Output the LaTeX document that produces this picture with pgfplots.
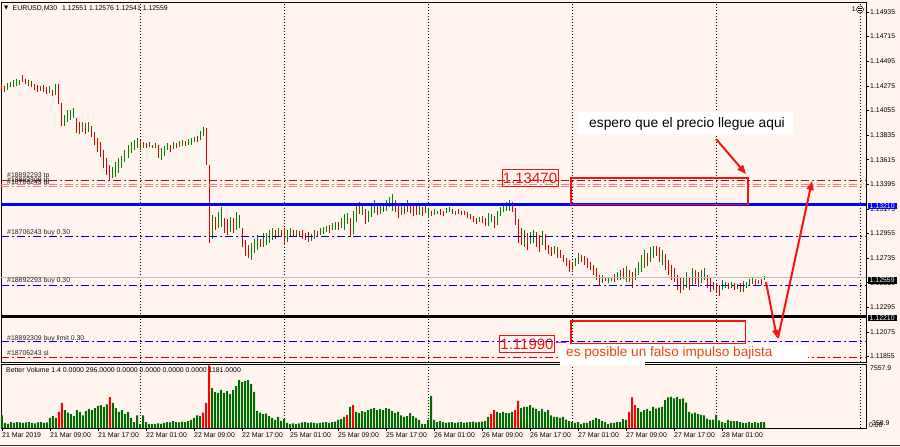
\documentclass[border=0pt]{standalone}
\usepackage{pgfplots}
\usepackage{pgfplotstable}
\pgfplotsset{compat=1.18}
\usepackage{fontspec}
\setmainfont{Liberation Sans}
\newfontfamily\dvs{DejaVu Sans}
\usetikzlibrary{arrows.meta}
\definecolor{bg}{RGB}{255,245,238}
\definecolor{upc}{RGB}{0,128,0}
\definecolor{dnc}{RGB}{225,0,0}
\definecolor{volg}{RGB}{0,105,0}
\definecolor{volr}{RGB}{255,0,0}
\definecolor{lnblue}{RGB}{0,0,205}
\definecolor{lnred}{RGB}{205,0,0}
\definecolor{lnpink}{RGB}{240,128,128}
\definecolor{annred}{RGB}{245,20,20}
\definecolor{annor}{RGB}{238,68,20}
\definecolor{annpur}{RGB}{190,60,190}
\newcommand{\smf}{\fontsize{6.9}{8}\selectfont}

% pc: 1 = up bar (green), 0 = down bar (red); vc: 1 = red volume bar, 0 = green
\pgfplotstableread{
t lo hi pc v vc
2 1.1424 1.1429 0 1500 0
3 1.1422 1.1427 0 600 0
4 1.1424 1.1430 1 500 0
5 1.1426 1.1431 1 700 0
6 1.1426 1.1433 1 600 0
7 1.1427 1.1434 1 700 0
8 1.1428 1.1433 1 650 0
9 1.1431 1.1437 0 600 0
10 1.1429 1.1434 0 650 0
11 1.1427 1.1433 1 700 0
12 1.1426 1.1432 0 600 0
13 1.1424 1.1429 0 550 0
14 1.1422 1.1428 0 650 0
15 1.1423 1.1427 1 700 0
16 1.1422 1.1428 0 600 0
17 1.1420 1.1426 0 650 0
18 1.1421 1.1427 1 1200 0
19 1.1418 1.1424 0 1400 0
20 1.1419 1.1429 1 1200 0
21 1.1411 1.1429 0 1900 1
22 1.1392 1.1412 0 2950 1
23 1.1392 1.1401 1 2100 0
24 1.1395 1.1406 1 1800 0
25 1.1397 1.1406 1 1650 0
26 1.1399 1.1408 1 1400 0
27 1.1385 1.1399 0 2100 0
28 1.1384 1.1395 0 1900 0
29 1.1386 1.1395 1 1500 0
30 1.1384 1.1394 0 2000 0
31 1.1386 1.1395 1 2250 0
32 1.1382 1.1392 0 2100 0
33 1.1375 1.1386 0 2350 0
34 1.1368 1.1381 0 2600 0
35 1.1364 1.1377 0 2700 0
36 1.1354 1.1370 0 2500 0
37 1.1348 1.1363 0 2800 0
38 1.1343 1.1357 0 3650 1
39 1.1345 1.1355 1 2950 0
40 1.1346 1.1359 1 2350 0
41 1.1350 1.1363 1 1900 0
42 1.1354 1.1365 1 2100 0
43 1.1359 1.1370 1 1650 0
44 1.1363 1.1375 1 1900 0
45 1.1367 1.1377 1 1200 0
46 1.1370 1.1379 1 700 0
47 1.1372 1.1381 1 1500 0
48 1.1370 1.1379 0 450 0
49 1.1372 1.1377 1 1500 0
50 1.1372 1.1376 0 700 0
51 1.1373 1.1377 1 500 0
52 1.1372 1.1375 0 450 0
53 1.1372 1.1376 1 500 0
54 1.1363 1.1375 0 550 0
55 1.1361 1.1372 1 500 0
56 1.1365 1.1374 1 600 0
57 1.1370 1.1376 1 700 0
58 1.1368 1.1375 0 650 0
59 1.1371 1.1377 1 800 0
60 1.1372 1.1376 0 700 0
61 1.1373 1.1378 1 650 0
62 1.1374 1.1379 1 750 0
63 1.1374 1.1378 0 700 0
64 1.1375 1.1380 1 800 0
65 1.1375 1.1381 1 950 0
66 1.1377 1.1382 1 1200 0
67 1.1377 1.1383 0 1500 0
68 1.1379 1.1387 1 1400 0
69 1.1383 1.1391 1 1800 1
70 1.1357 1.1390 0 2950 1
71 1.1287 1.1357 0 7400 1
72 1.1291 1.1312 1 4700 0
73 1.1299 1.1310 0 4250 0
74 1.1300 1.1315 1 4150 0
75 1.1301 1.1319 1 4500 0
76 1.1296 1.1309 0 4150 0
77 1.1294 1.1308 0 4350 0
78 1.1297 1.1310 1 4000 0
79 1.1296 1.1309 0 4500 0
80 1.1299 1.1315 1 4950 0
81 1.1300 1.1312 1 5650 0
82 1.1283 1.1300 0 5400 0
83 1.1275 1.1290 0 5550 0
84 1.1274 1.1285 0 5650 0
85 1.1272 1.1287 1 5200 0
86 1.1278 1.1291 1 4250 0
87 1.1281 1.1294 1 2000 0
88 1.1283 1.1291 0 1800 0
89 1.1283 1.1296 1 1650 0
90 1.1285 1.1296 1 1700 0
91 1.1287 1.1299 1 1400 0
92 1.1290 1.1300 1 1200 0
93 1.1291 1.1299 0 950 0
94 1.1293 1.1300 1 1300 0
95 1.1292 1.1299 0 800 0
96 1.1285 1.1300 0 1050 0
97 1.1288 1.1299 1 600 0
98 1.1293 1.1300 1 500 0
99 1.1292 1.1299 0 550 0
100 1.1293 1.1299 1 450 0
101 1.1292 1.1298 0 550 0
102 1.1291 1.1299 0 650 0
103 1.1290 1.1296 0 700 0
104 1.1288 1.1297 0 600 0
105 1.1289 1.1295 1 650 0
106 1.1291 1.1299 1 600 0
107 1.1293 1.1298 0 550 0
108 1.1294 1.1300 1 600 0
109 1.1295 1.1301 1 650 0
110 1.1297 1.1302 1 700 0
111 1.1296 1.1303 0 600 0
112 1.1299 1.1305 1 700 0
113 1.1299 1.1306 1 750 0
114 1.1299 1.1306 0 950 0
115 1.1300 1.1309 1 1050 0
116 1.1299 1.1313 1 1300 0
117 1.1304 1.1314 1 1550 1
118 1.1292 1.1309 0 2500 0
119 1.1295 1.1316 1 2700 1
120 1.1306 1.1323 1 1900 0
121 1.1313 1.1324 0 1750 0
122 1.1312 1.1322 1 2000 0
123 1.1304 1.1317 0 1900 0
124 1.1306 1.1316 1 2100 0
125 1.1310 1.1323 1 2250 0
126 1.1314 1.1325 1 2350 0
127 1.1312 1.1322 0 2100 0
128 1.1313 1.1321 1 2250 0
129 1.1315 1.1323 1 2100 0
130 1.1316 1.1325 1 2350 0
131 1.1319 1.1328 1 2250 0
132 1.1316 1.1331 1 2000 0
133 1.1315 1.1325 0 1750 0
134 1.1309 1.1322 0 1900 0
135 1.1312 1.1321 1 1500 0
136 1.1313 1.1322 0 1300 0
137 1.1315 1.1325 1 1400 0
138 1.1314 1.1323 0 1750 0
139 1.1311 1.1321 0 1400 0
140 1.1312 1.1320 0 1200 0
141 1.1312 1.1321 1 950 0
142 1.1311 1.1319 0 500 0
143 1.1314 1.1321 1 450 0
144 1.1309 1.1318 1 950 0
145 1.1311 1.1316 0 3750 0
146 1.1312 1.1317 1 950 0
147 1.1313 1.1316 1 700 0
148 1.1312 1.1317 0 800 0
149 1.1311 1.1316 0 700 0
150 1.1314 1.1318 1 600 0
151 1.1315 1.1319 1 650 0
152 1.1313 1.1317 0 700 0
153 1.1312 1.1316 1 600 0
154 1.1313 1.1317 0 650 0
155 1.1312 1.1316 0 700 0
156 1.1312 1.1316 0 600 0
157 1.1309 1.1315 0 650 0
158 1.1308 1.1313 0 700 0
159 1.1306 1.1311 0 750 0
160 1.1304 1.1309 0 650 0
161 1.1306 1.1310 1 700 0
162 1.1305 1.1311 0 750 0
163 1.1302 1.1309 0 800 0
164 1.1302 1.1314 1 1300 0
165 1.1306 1.1313 1 1650 1
166 1.1300 1.1311 0 2100 1
167 1.1303 1.1316 1 1900 0
168 1.1311 1.1319 1 1750 0
169 1.1315 1.1321 1 1900 0
170 1.1316 1.1324 1 1750 0
171 1.1316 1.1325 1 1750 0
172 1.1315 1.1324 0 1900 0
173 1.1303 1.1318 0 2100 1
174 1.1287 1.1308 0 3200 1
175 1.1285 1.1300 0 2350 0
176 1.1283 1.1299 1 2500 0
177 1.1281 1.1296 0 2500 0
178 1.1286 1.1297 1 2700 0
179 1.1287 1.1299 1 2400 0
180 1.1283 1.1297 0 2250 0
181 1.1279 1.1294 0 2000 0
182 1.1285 1.1298 1 2250 0
183 1.1281 1.1295 0 1900 0
184 1.1277 1.1285 0 2100 0
185 1.1275 1.1283 0 1500 0
186 1.1277 1.1284 1 1300 0
187 1.1274 1.1283 0 1300 0
188 1.1274 1.1281 0 1200 0
189 1.1270 1.1276 0 1300 0
190 1.1266 1.1274 0 1000 0
191 1.1261 1.1272 0 800 0
192 1.1263 1.1270 0 700 0
193 1.1266 1.1274 1 600 0
194 1.1268 1.1278 1 700 0
195 1.1270 1.1276 0 450 0
196 1.1267 1.1275 0 600 0
197 1.1265 1.1274 0 600 0
198 1.1263 1.1270 0 800 0
199 1.1258 1.1267 0 950 0
200 1.1254 1.1265 0 1200 0
201 1.1249 1.1258 0 1050 0
202 1.1251 1.1258 1 800 0
203 1.1253 1.1257 0 700 0
204 1.1251 1.1257 1 450 0
205 1.1253 1.1257 1 600 0
206 1.1252 1.1259 0 600 0
207 1.1254 1.1261 1 700 0
208 1.1254 1.1263 1 700 0
209 1.1255 1.1265 0 1050 0
210 1.1252 1.1266 1 950 0
211 1.1252 1.1263 0 1900 1
212 1.1247 1.1261 0 3600 1
213 1.1254 1.1265 1 2700 1
214 1.1258 1.1270 1 2350 0
215 1.1261 1.1276 1 1900 0
216 1.1265 1.1281 1 2100 0
217 1.1266 1.1278 0 2250 0
218 1.1270 1.1283 1 2000 0
219 1.1274 1.1284 1 2500 0
220 1.1275 1.1284 0 2300 0
221 1.1270 1.1283 0 2400 0
222 1.1267 1.1281 1 2500 0
223 1.1263 1.1277 0 3300 0
224 1.1258 1.1272 0 3600 0
225 1.1254 1.1267 0 3700 0
226 1.1252 1.1265 0 3500 0
227 1.1245 1.1258 0 3650 0
228 1.1242 1.1256 0 3400 0
229 1.1245 1.1257 1 3500 0
230 1.1247 1.1261 1 3000 0
231 1.1245 1.1256 0 1900 0
232 1.1249 1.1265 1 1700 0
233 1.1250 1.1263 0 1800 0
234 1.1248 1.1261 0 1650 0
235 1.1251 1.1263 1 1550 0
236 1.1254 1.1265 1 1500 0
237 1.1247 1.1258 0 1100 0
238 1.1243 1.1256 0 950 0
239 1.1245 1.1252 0 1000 0
240 1.1242 1.1251 0 1550 0
241 1.1240 1.1249 0 900 0
242 1.1245 1.1254 1 700 0
243 1.1247 1.1252 1 600 0
244 1.1246 1.1251 0 950 0
245 1.1247 1.1252 1 800 0
246 1.1245 1.1251 0 800 0
247 1.1246 1.1250 1 800 0
248 1.1243 1.1251 0 700 0
249 1.1243 1.1253 1 600 0
250 1.1247 1.1252 1 600 0
251 1.1249 1.1255 1 700 0
252 1.1250 1.1256 1 600 0
253 1.1249 1.1255 0 700 0
254 1.1250 1.1254 1 600 0
255 1.1249 1.1255 0 700 0
256 1.12541 1.12576 1 700 0
}\bars

\begin{document}
\begin{tikzpicture}
\fill[bg] (0,0) rectangle (900pt,447pt);
% ---------------- main price panel
\begin{axis}[at={(1pt,85pt)}, anchor=south west, scale only axis,
  width=865pt, height=360pt,
  xmin=1.667, xmax=290, ymin=1.11806, ymax=1.150244,
  axis line style={black, line width=0.8pt},
  xtick=\empty,
  ytick={1.11855,1.12075,1.12295,1.12515,1.12735,1.12955,1.13175,1.13395,1.13615,1.13835,1.14055,1.14275,1.14495,1.14715,1.14935},
  yticklabels={1.11855,1.12075,1.12295,1.12515,1.12735,1.12955,1.13175,1.13395,1.13615,1.13835,1.14055,1.14275,1.14495,1.14715,1.14935},
  ytick pos=right, yticklabel pos=right,
  tick align=outside, major tick length=3pt,
  ytick style={black, line width=0.5pt},
  y tick label style={font=\smf, inner sep=1pt, anchor=west},
  clip=true]
\pgfplotsinvokeforeach{48,96,144,192,240,288}{
  \draw[black, line width=0.7pt, dash pattern=on 1.2pt off 1.8pt] (axis cs:#1,1.11806) -- (axis cs:#1,1.150244);
}
\addplot[draw=none, mark=none, restrict expr to domain={\thisrow{pc}}{0.5:1.5},
  error bars/y dir=plus, error bars/y explicit, error bars/error mark=none,
  error bars/error bar style={draw=upc, line width=1pt, solid}]
  table[x=t, y=lo, y error plus expr=\thisrow{hi}-\thisrow{lo}] {\bars};
\addplot[draw=none, mark=none, restrict expr to domain={\thisrow{pc}}{-0.5:0.5},
  error bars/y dir=plus, error bars/y explicit, error bars/error mark=none,
  error bars/error bar style={draw=dnc, line width=1pt, solid}]
  table[x=t, y=lo, y error plus expr=\thisrow{hi}-\thisrow{lo}] {\bars};
% order / level lines
\draw[lnred, line width=0.9pt, dash pattern=on 8pt off 3pt on 2pt off 3pt] (axis cs:1.667,1.13433) -- (axis cs:290,1.13433);
\draw[lnpink, line width=0.9pt, dash pattern=on 8pt off 3pt on 2pt off 3pt] (axis cs:1.667,1.13397) -- (axis cs:290,1.13397);
\draw[lnpink, line width=0.9pt, dash pattern=on 8pt off 3pt on 2pt off 3pt] (axis cs:1.667,1.13376) -- (axis cs:290,1.13376);
\draw[blue, line width=3pt] (axis cs:1.667,1.13210) -- (axis cs:290,1.13210);
\draw[lnblue, line width=0.8pt, dash pattern=on 8pt off 3pt on 2pt off 3pt] (axis cs:1.667,1.12932) -- (axis cs:290,1.12932);
\draw[gray!55, line width=0.8pt] (axis cs:1.667,1.12559) -- (axis cs:290,1.12559);
\draw[lnblue, line width=0.8pt, dash pattern=on 8pt off 3pt on 2pt off 3pt] (axis cs:1.667,1.12494) -- (axis cs:290,1.12494);
\draw[black, line width=3pt] (axis cs:1.667,1.12210) -- (axis cs:290,1.12210);
\draw[lnblue, line width=0.8pt, dash pattern=on 8pt off 3pt on 2pt off 3pt] (axis cs:1.667,1.11990) -- (axis cs:290,1.11990);
\draw[lnred, line width=0.8pt, dash pattern=on 8pt off 3pt on 2pt off 3pt] (axis cs:1.667,1.11850) -- (axis cs:290,1.11850);
\end{axis}
% ---------------- volume panel
\begin{axis}[at={(1pt,19pt)}, anchor=south west, scale only axis,
  width=865pt, height=64pt,
  xmin=1.667, xmax=290, ymin=0, ymax=7552,
  axis line style={black, line width=0.8pt},
  ytick=\empty,
  xtick={2,18,34,50,66,82,98,114,130,146,162,178,194,210,226,242},
  xticklabels={21 Mar 2019,21 Mar 09:00,21 Mar 17:00,22 Mar 01:00,22 Mar 09:00,22 Mar 17:00,25 Mar 01:00,25 Mar 09:00,25 Mar 17:00,26 Mar 01:00,26 Mar 09:00,26 Mar 17:00,27 Mar 01:00,27 Mar 09:00,27 Mar 17:00,28 Mar 01:00},
  xtick pos=left, tick align=outside, major tick length=3pt,
  xtick style={black, line width=0.5pt},
  x tick label style={font=\smf, anchor=north west, inner sep=1pt, xshift=-1pt},
  ybar, bar width=2pt, clip=true]
\pgfplotsinvokeforeach{48,96,144,192,240,288}{
  \draw[black, line width=0.7pt, dash pattern=on 1.2pt off 1.8pt] (axis cs:#1,0) -- (axis cs:#1,7552);
}
\addplot[fill=volg, draw=none, bar shift=0pt, restrict expr to domain={\thisrow{vc}}{-0.5:0.5}] table[x=t, y=v] {\bars};
\addplot[fill=volr, draw=none, bar shift=0pt, restrict expr to domain={\thisrow{vc}}{0.5:1.5}] table[x=t, y=v] {\bars};
\end{axis}
% ---------------- labels and annotations (pixel-like frame, y down)
\begin{scope}[shift={(0pt,447pt)}, x=1pt, y=-1pt]
  % header
  \node[anchor=west, inner sep=0pt] at (4,8.5) {\dvs\fontsize{5.5}{6}\selectfont ▼};
  \node[anchor=west, inner sep=0pt, font=\smf] at (12.5,8.5) {EURUSD,M30};
  \node[anchor=west, inner sep=0pt, font=\smf] at (62,8.5) {1.12551 1.12576 1.12541 1.12559};
  \node[anchor=east, inner sep=0pt, font=\smf] at (856,9.5) {1};
  \draw[black, line width=0.5pt, fill=bg] (860,9.5) circle (3.5);
  \draw[black, line width=0.4pt] (858,8.5) -- (862,8.5) (858,10.5) -- (862,10.5);
  % order labels
  \node[anchor=base west, inner sep=0pt, font=\smf, text=black!85] at (7,178) {\#18892293 tp};
  \node[anchor=base west, inner sep=0pt, font=\smf, text=black!85] at (7,183) {\#18892309 tp};
  \node[anchor=base west, inner sep=0pt, font=\smf, text=black!85] at (7,184.5) {\#18706243 tp};
  \node[anchor=base west, inner sep=0pt, font=\smf, text=black!85] at (7,234.5) {\#18706243 buy 0.30};
  \node[anchor=base west, inner sep=0pt, font=\smf, text=black!85] at (7,283) {\#18892293 buy 0.30};
  \node[anchor=base west, inner sep=0pt, font=\smf, text=black!85] at (7,340.5) {\#18892309 buy limit 0.30};
  \node[anchor=base west, inner sep=0pt, font=\smf, text=black!85] at (7,355.5) {\#18706243 sl};
  \node[anchor=base west, inner sep=0pt, font=\smf] at (6,372.5) {Better Volume 1.4 0.0000 296.0000 0.0000 0.0000 0.0000 0.0000 1181.0000};
  % price boxes on the right
  \node[fill=blue, text=white, font=\smf, anchor=west, inner xsep=2pt, inner ysep=1pt] at (867.5,206) {1.13210};
  \node[fill=black, text=white, font=\smf, anchor=west, inner xsep=2pt, inner ysep=1pt] at (867.5,280.5) {1.12559};
  \node[fill=black, text=white, font=\smf, anchor=west, inner xsep=2pt, inner ysep=1pt] at (867.5,318) {1.12210};
  % volume scale labels
  \node[anchor=west, inner sep=0pt, font=\smf] at (870,368) {7557.9};
  \node[anchor=west, inner sep=0pt, font=\smf] at (872,423.5) {358.9};
  \node[anchor=west, inner sep=0pt, font=\smf] at (869,425) {0.00};
  % text label backgrounds
  \fill[white] (578,112) rectangle (793,134);
  \node[anchor=base west, inner sep=0pt, font=\fontsize{13.8}{16}\selectfont] at (589,128) {espero que el precio llegue aqui};
  \fill[white] (560,345.5) rectangle (808,362);
  \fill[white] (560,360) rectangle (645,365);
  \node[anchor=base west, inner sep=0pt, text=annor, font=\fontsize{13.6}{16}\selectfont] at (566,357) {es posible un falso impulso bajista};
  % annotation boxes
  \draw[annred, line width=1.8pt] (571,178) rectangle (748,204.5);
  \draw[annred, line width=1.8pt] (571,321) rectangle (745.5,343.5);
  \node[draw=annred, line width=0.6pt, text=annred, font=\fontsize{15}{17}\selectfont, inner xsep=1pt, inner ysep=0pt, minimum height=17.5pt] at (530,178) {1.13470};
  \node[draw=annred, line width=0.6pt, text=annred, font=\fontsize{15}{17}\selectfont, inner xsep=1pt, inner ysep=0pt, minimum height=17.5pt] at (527,344) {1.11990};
  \draw[annpur, line width=0.8pt] (555.5,342.5) -- (566,342.5);
  % arrows
  \draw[annred, line width=2pt, -{Triangle[length=9pt,width=7pt]}] (716,139) -- (746,174);
  \draw[annred, line width=2pt, -{Triangle[length=8pt,width=6pt]}] (766,282) -- (777,338);
  \draw[annred, line width=2pt, -{Triangle[length=9pt,width=7pt]}] (778,338) -- (812,181);
  % window bottom line
  \draw[black!80, line width=1pt] (0,446) -- (900,446);
\end{scope}
\pgfresetboundingbox
\path[use as bounding box] (0,0) rectangle (900pt,447pt);
\end{tikzpicture}
\end{document}
